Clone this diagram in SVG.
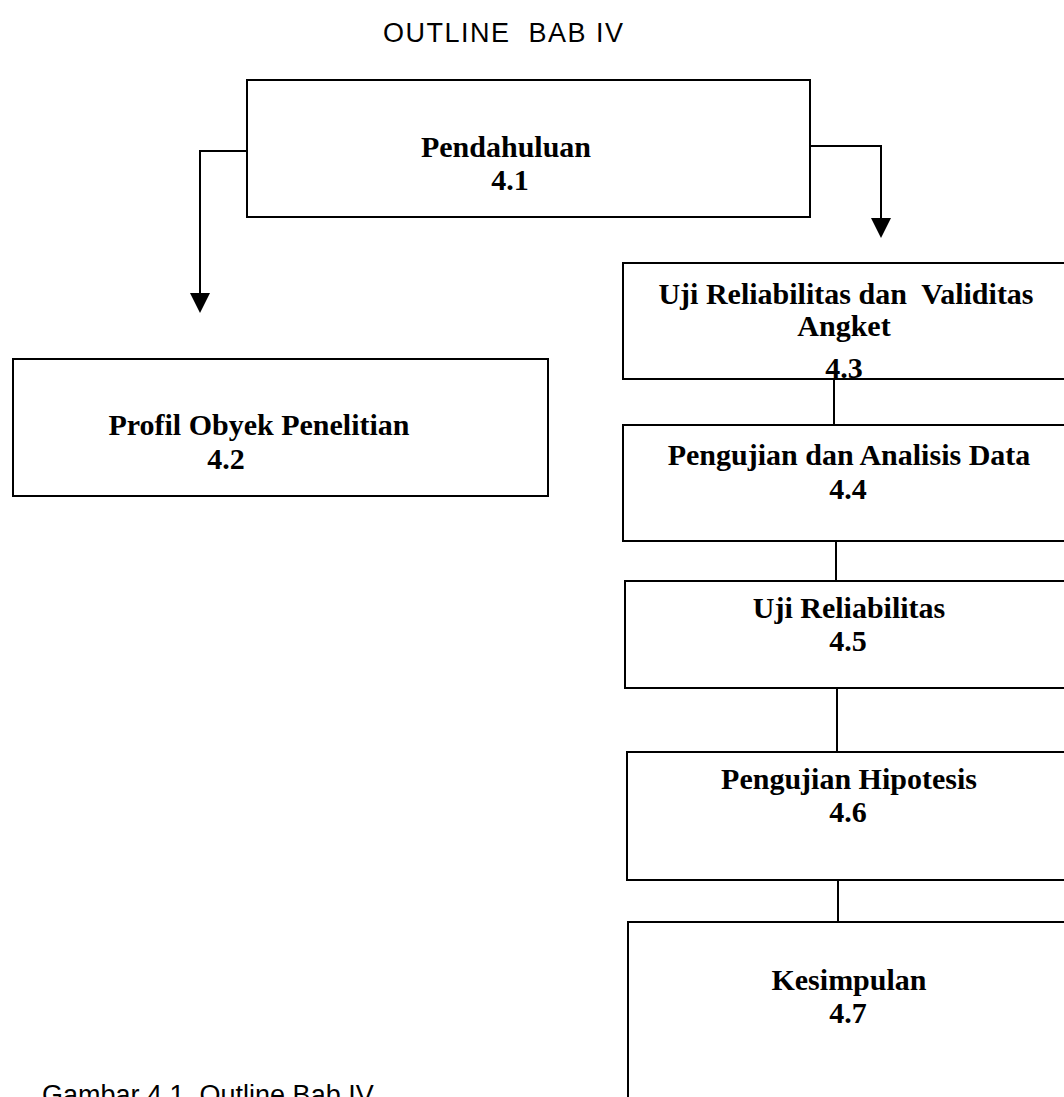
<svg xmlns="http://www.w3.org/2000/svg" width="1064" height="1097" viewBox="0 0 1064 1097">
  <style>
    .box { fill: #ffffff; stroke: #000000; stroke-width: 2; }
    .lbl { font-family: "Liberation Serif", "Times New Roman", serif; font-weight: bold; font-size: 30px; fill: #000000; text-anchor: middle; }
    .title { font-family: "Liberation Sans", Arial, sans-serif; font-size: 27px; fill: #000000; letter-spacing: 1.5px; }
    .caption { font-family: "Liberation Sans", Arial, sans-serif; font-size: 27px; fill: #000000; }
    .wire { fill: none; stroke: #000000; stroke-width: 2; }
    .head { fill: #000000; }
  </style>

  <rect width="1064" height="1097" fill="#ffffff"/>

  <text class="title" x="383" y="42" xml:space="preserve">OUTLINE  BAB IV</text>

  <!-- connectors: two branches out of 4.1, then the chain down the right column -->
  <g id="connectors">
    <path class="wire" d="M247,151 H200 V293"/>
    <path class="head" d="M190,293 L210,293 L200,313 Z"/>
    <path class="wire" d="M810,146 H881 V218"/>
    <path class="head" d="M871,218 L891,218 L881,238 Z"/>
    <line class="wire" x1="834" y1="379" x2="834" y2="425"/>
    <line class="wire" x1="836" y1="541" x2="836" y2="581"/>
    <line class="wire" x1="837" y1="688" x2="837" y2="752"/>
    <line class="wire" x1="838" y1="880" x2="838" y2="922"/>
  </g>

  <g id="n41">
    <rect class="box" x="247" y="80" width="563" height="137"/>
    <text class="lbl" x="506" y="157">Pendahuluan</text>
    <text class="lbl" x="510" y="190">4.1</text>
  </g>

  <g id="n42">
    <rect class="box" x="13" y="359" width="535" height="137"/>
    <text class="lbl" x="259" y="435">Profil Obyek Penelitian</text>
    <text class="lbl" x="226" y="469">4.2</text>
  </g>

  <g id="n43">
    <rect class="box" x="623" y="263" width="460" height="116"/>
    <text class="lbl" x="846" y="304" xml:space="preserve">Uji Reliabilitas dan  Validitas</text>
    <text class="lbl" x="844" y="336">Angket</text>
    <text class="lbl" x="844" y="378">4.3</text>
  </g>

  <g id="n44">
    <rect class="box" x="623" y="425" width="460" height="116"/>
    <text class="lbl" x="849" y="465">Pengujian dan Analisis Data</text>
    <text class="lbl" x="848" y="499">4.4</text>
  </g>

  <g id="n45">
    <rect class="box" x="625" y="581" width="460" height="107"/>
    <text class="lbl" x="849" y="618">Uji Reliabilitas</text>
    <text class="lbl" x="848" y="651">4.5</text>
  </g>

  <g id="n46">
    <rect class="box" x="627" y="752" width="460" height="128"/>
    <text class="lbl" x="849" y="789">Pengujian Hipotesis</text>
    <text class="lbl" x="848" y="822">4.6</text>
  </g>

  <g id="n47">
    <rect class="box" x="628" y="922" width="460" height="200"/>
    <text class="lbl" x="849" y="990">Kesimpulan</text>
    <text class="lbl" x="848" y="1023">4.7</text>
  </g>

  <text class="caption" x="42" y="1104">Gambar 4.1. Outline Bab IV</text>
</svg>
